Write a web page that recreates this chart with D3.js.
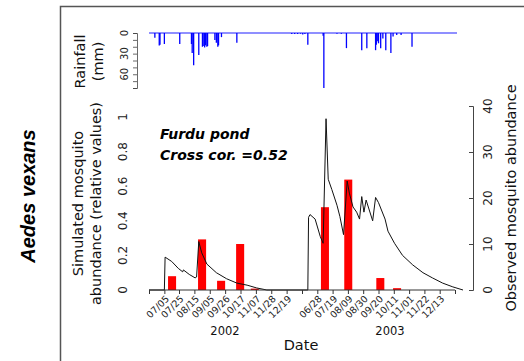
<!DOCTYPE html>
<html><head><meta charset="utf-8">
<script src="https://cdn.jsdelivr.net/npm/d3@7"></script>
<style>body{margin:0;background:#fff}svg{display:block}</style>
</head><body>
<svg id="c" width="524" height="361"></svg>
<script>
// ---------- data ----------
const simulated = [
 ["2002-06-14",0],["2002-07-05",0],["2002-07-06",0.19],["2002-07-15",0.165],["2002-07-24",0.125],
 ["2002-07-30",0.105],["2002-07-31",0.116],["2002-08-08",0.09],["2002-08-16",0.07],["2002-08-18",0.075],
 ["2002-08-21",0.28],["2002-08-25",0.215],["2002-09-01",0.15],["2002-09-14",0.1],["2002-09-28",0.065],
 ["2002-10-12",0.04],["2002-10-26",0.028],["2002-11-08",0.012],["2002-11-22",0],["2003-01-09",0],
 ["2003-06-07",0],["2003-06-15",0],["2003-06-16",0.42],["2003-06-18",0.436],["2003-06-25",0.41],
 ["2003-07-02",0.31],["2003-07-06",0.27],["2003-07-10",0.99],["2003-07-13",0.64],["2003-07-18",0.58],
 ["2003-07-25",0.49],["2003-07-29",0.425],["2003-08-03",0.32],["2003-08-08",0.63],["2003-08-11",0.56],
 ["2003-08-16",0.48],["2003-08-21",0.45],["2003-08-25",0.41],["2003-08-28",0.54],["2003-08-31",0.45],
 ["2003-09-03",0.52],["2003-09-12",0.40],["2003-09-16",0.535],["2003-09-20",0.505],["2003-09-29",0.41],
 ["2003-10-03",0.34],["2003-10-12",0.27],["2003-10-23",0.2],["2003-11-06",0.145],["2003-11-20",0.1],
 ["2003-12-03",0.07],["2003-12-17",0.04],["2003-12-31",0.018],["2004-01-14",0]
];
const observed = [
 ["2002-07-15",3],["2002-08-25",11],["2002-09-20",2],["2002-10-16",10],["2002-11-05",0.3],
 ["2003-07-08",18],["2003-08-09",24],["2003-09-22",2.6],["2003-10-15",0.4]
];
const rainfall = [
 ["2002-06-22",7],["2002-06-28",18],["2002-06-29",17],["2002-07-05",16],["2002-07-26",16],
 ["2002-08-11",16],["2002-08-12",29],["2002-08-14",47],["2002-08-21",32],["2002-08-26",20],
 ["2002-08-27",19],["2002-08-29",21],["2002-08-30",18],["2002-09-01",20],["2002-09-02",19],
 ["2002-09-12",10],["2002-09-14",14],["2002-09-16",20],["2002-09-17",18],["2002-09-21",6],
 ["2002-10-12",14],["2002-12-26",1.5],["2002-12-30",1.5],["2003-01-03",1.5],["2003-01-07",1],
 ["2003-06-08",2],["2003-06-11",1.5],["2003-06-15",17],["2003-07-06",4],["2003-07-07",80],
 ["2003-07-25",1],["2003-07-31",1],["2003-08-07",22],["2003-08-28",25],["2003-09-04",22],
 ["2003-09-16",25],["2003-09-17",17],["2003-09-19",12],["2003-09-20",15],["2003-09-23",22],
 ["2003-09-26",8],["2003-09-30",25],["2003-10-07",29],["2003-10-10",5],["2003-10-15",3],
 ["2003-10-21",3],["2003-11-05",20]
];
const tickLabels2002 = ["07/05","07/25","08/15","09/05","09/26","10/17","11/07","11/28","12/19"];
const tickLabels2003 = ["06/28","07/19","08/09","08/30","09/20","10/11","11/01","11/22","12/13"];
const edgeTicks = ["2002-06-14","2003-01-09","2004-01-03"];
const simTicks = [0,0.2,0.4,0.6,0.8,1];
const obsTicks = [0,10,20,30,40];
const rainLabels = [0,30,60];
const rainMinor = [0,10,20,30,40,50,60,70,80];

// ---------- scales ----------
const parse = d3.timeParse("%Y-%m-%d");
const x = d3.scaleTime()
  .domain([parse("2002-06-14"), parse("2003-01-09"), parse("2003-06-07"), parse("2004-01-03")])
  .range([149, 302, 302, 455]);
const ySim = d3.scaleLinear().domain([0,1]).range([290,117]);
const yObs = d3.scaleLinear().domain([0,40]).range([290,106]);
const yRain = d3.scaleLinear().domain([0,80]).range([33,88]);

const svg = d3.select("#c");
const FONT = "DejaVu Sans, sans-serif";

// frame
svg.append("rect").attr("x",60.5).attr("y",6.5).attr("width",700).attr("height",500)
  .attr("fill","none").attr("stroke","#555").attr("stroke-width",1.5);

// side label
svg.append("text").attr("transform","translate(35,196) rotate(-90)")
  .attr("text-anchor","middle").attr("font-family","Liberation Sans, Arial, sans-serif")
  .attr("font-weight","bold").attr("font-style","italic").attr("font-size",20)
  .text("Aedes vexans");

// ---------- rainfall panel ----------
svg.append("line").attr("x1",149).attr("x2",457).attr("y1",yRain(0)).attr("y2",yRain(0))
  .attr("stroke","#2020ff").attr("stroke-width",1.2);
svg.append("g").selectAll("line").data(rainfall).join("line")
  .attr("x1",d=>x(parse(d[0]))).attr("x2",d=>x(parse(d[0])))
  .attr("y1",yRain(0)).attr("y2",d=>yRain(d[1]))
  .attr("stroke","#0000ff").attr("stroke-width",1.3);
const rainAxis = d3.axisLeft(yRain).tickValues(rainMinor).tickSize(4).tickFormat("");
svg.append("g").attr("transform","translate(137,0)").call(rainAxis)
  .call(g=>g.selectAll("path,line").attr("stroke","#444").attr("stroke-width",0.8));
svg.append("g").selectAll("text").data(rainLabels).join("text")
  .attr("transform",d=>`translate(128,${yRain(d)}) rotate(-90)`)
  .attr("text-anchor","middle").attr("font-family",FONT).attr("font-size",10).attr("fill","#222")
  .text(d=>d);
const rainTitle = svg.append("text").attr("transform",`translate(0,${(yRain(0)+yRain(80))/2+1}) rotate(-90)`)
  .attr("text-anchor","middle").attr("font-family",FONT).attr("font-size",14.5).attr("fill","#111");
rainTitle.append("tspan").attr("x",0).attr("y",85).text("Rainfall");
rainTitle.append("tspan").attr("x",0).attr("y",103).text("(mm)");

// ---------- main panel ----------
// observed bars
svg.append("g").selectAll("rect").data(observed).join("rect")
  .attr("x",d=>x(d3.timeDay.offset(parse(d[0]),-5)))
  .attr("width",d=>x(d3.timeDay.offset(parse(d[0]),6))-x(d3.timeDay.offset(parse(d[0]),-5)))
  .attr("y",d=>yObs(d[1])).attr("height",d=>yObs(0)-yObs(d[1]))
  .attr("fill","#ff0000");

// simulated line
svg.append("path").datum(simulated)
  .attr("d",d3.line().x(d=>x(parse(d[0]))).y(d=>ySim(d[1])))
  .attr("fill","none").attr("stroke","#111").attr("stroke-width",1);

// x axis
const tickDates = [
  ...edgeTicks.map(s=>({d:parse(s),l:""})),
  ...tickLabels2002.map(s=>({d:parse("2002-"+s.replace("/","-")),l:s})),
  ...tickLabels2003.map(s=>({d:parse("2003-"+s.replace("/","-")),l:s}))
].sort((a,b)=>a.d-b.d);
const xAxis = d3.axisBottom(x).tickValues(tickDates.map(t=>t.d)).tickSize(4).tickFormat("");
svg.append("g").attr("transform","translate(0,290)").call(xAxis)
  .call(g=>g.select(".domain").attr("d","M149,0H455").attr("stroke","#333"))
  .call(g=>g.selectAll("line").attr("stroke","#333"));
svg.append("g").selectAll("text").data(tickDates.filter(t=>t.l)).join("text")
  .attr("transform",t=>`translate(${x(t.d)+3},297) rotate(-45)`)
  .attr("text-anchor","end").attr("dy","0.35em")
  .attr("font-family",FONT).attr("font-size",9.5).attr("fill","#222")
  .text(t=>t.l);
svg.append("text").attr("x",225).attr("y",335).attr("text-anchor","middle")
  .attr("font-family",FONT).attr("font-size",11.5).attr("fill","#111").text("2002");
svg.append("text").attr("x",390).attr("y",335).attr("text-anchor","middle")
  .attr("font-family",FONT).attr("font-size",11.5).attr("fill","#111").text("2003");
svg.append("text").attr("x",301).attr("y",350).attr("text-anchor","middle")
  .attr("font-family",FONT).attr("font-size",14.5).attr("fill","#111").text("Date");

// left axis labels
svg.append("g").selectAll("text").data(simTicks).join("text")
  .attr("transform",d=>`translate(127,${ySim(d)}) rotate(-90)`)
  .attr("text-anchor","middle").attr("font-family",FONT).attr("font-size",12).attr("fill","#222")
  .text(d=>d);
const simTitle = svg.append("text").attr("transform",`translate(0,${(ySim(0)+ySim(1))/2}) rotate(-90)`)
  .attr("text-anchor","middle").attr("font-family",FONT).attr("font-size",14.5).attr("fill","#111");
simTitle.append("tspan").attr("x",0).attr("y",83).text("Simulated mosquito");
simTitle.append("tspan").attr("x",0).attr("y",101).text("abundance (relative values)");

// right axis
const rAxis = d3.axisRight(yObs).tickValues(obsTicks).tickSize(-4).tickFormat("");
svg.append("g").attr("transform","translate(473,0)").call(rAxis)
  .call(g=>g.selectAll("path,line").attr("stroke","#444"));
svg.append("g").selectAll("text").data(obsTicks).join("text")
  .attr("transform",d=>`translate(492,${yObs(d)}) rotate(-90)`)
  .attr("text-anchor","middle").attr("font-family",FONT).attr("font-size",12).attr("fill","#222")
  .text(d=>d);
svg.append("text").attr("transform",`translate(516,${(yObs(0)+yObs(40))/2}) rotate(-90)`)
  .attr("text-anchor","middle").attr("font-family",FONT).attr("font-size",14.5).attr("fill","#111")
  .text("Observed mosquito abundance");

// annotation
svg.append("text").attr("x",160).attr("y",139).attr("font-family",FONT)
  .attr("font-weight","bold").attr("font-style","italic").attr("font-size",14).text("Furdu pond");
svg.append("text").attr("x",160).attr("y",160).attr("font-family",FONT)
  .attr("font-weight","bold").attr("font-style","italic").attr("font-size",14).text("Cross cor. =0.52");
</script>
</body></html>
